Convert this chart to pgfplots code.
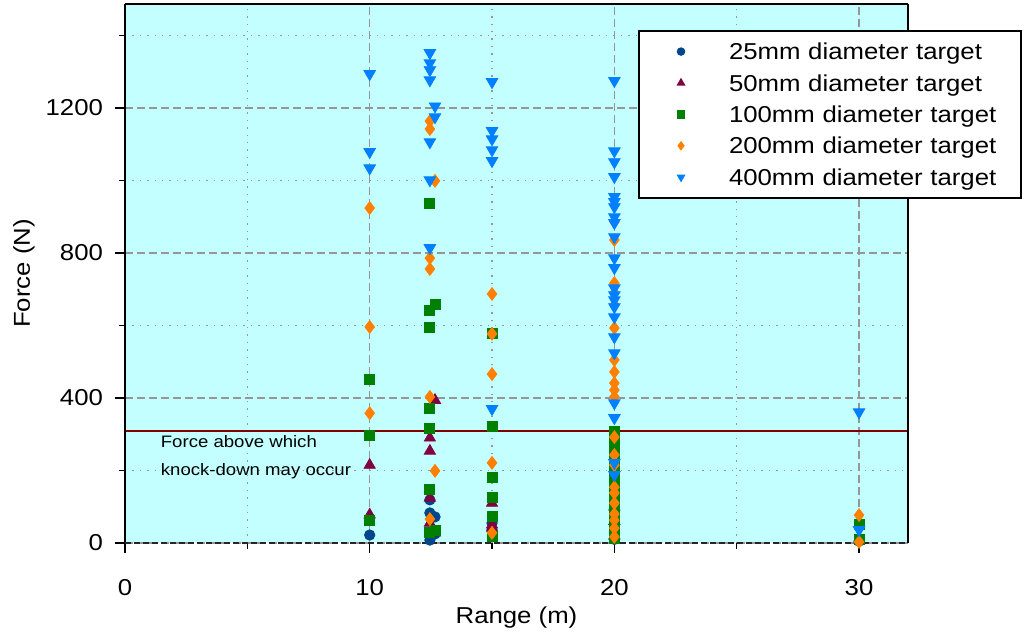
\documentclass[border=0pt]{standalone}
\usepackage{pgfplots}
\pgfplotsset{compat=1.18}
\usepackage{fontspec}
\setmainfont{Liberation Sans}[FakeStretch=1.12]

\definecolor{bgc}{RGB}{196,255,255}
\definecolor{c25}{RGB}{0,70,140}
\definecolor{c50}{RGB}{128,0,64}
\definecolor{c100}{RGB}{0,128,0}
\definecolor{c200}{RGB}{255,128,0}
\definecolor{c400}{RGB}{0,128,255}
\definecolor{redline}{RGB}{128,0,0}
\definecolor{gridc}{RGB}{150,150,150}

\begin{document}
\begin{tikzpicture}
\useasboundingbox (0,0) rectangle (512pt,318pt);
\begin{axis}[
 at={(62.5pt,46.5pt)}, anchor=south west,
 scale only axis, width=391.5pt, height=269.5pt,
 xmin=0, xmax=32, ymin=0, ymax=1487,
 clip=false,
 axis line style={draw=none},
 axis background/.style={fill=bgc},
 xtick={0,10,20,30}, minor xtick={5,15,25},
 ytick={0,400,800,1200}, minor ytick={200,600,1000,1400},
 tick align=outside, tick pos=left,
 major tick length=5pt, minor tick length=3pt,
 every tick/.style={black, line width=0.6pt},
 grid=both,
 major grid style={gridc, dash pattern=on 4pt off 2pt, line width=0.6pt},
 minor grid style={gridc, dash pattern=on 0.7pt off 3pt, line width=0.6pt},
 tick label style={font=\fontsize{11.5}{13}\selectfont},
 xticklabel style={yshift=-9.5pt},
 yticklabel style={xshift=-2.5pt},
 /pgf/number format/assume math mode=true,
 /pgf/number format/1000 sep={},
 scaled y ticks=false,
 xlabel={Range (m)}, ylabel={Force (N)},
 label style={font=\fontsize{11.5}{13}\selectfont},
 xlabel style={at={(axis description cs:0.5,-0.139)}, anchor=center},
 ylabel style={at={(axis description cs:-0.129,0.5)}, anchor=center},
 legend cell align=left,
 legend style={at={(axis description cs:0.6552,0.9518)}, anchor=north west,
   draw=black, line width=1pt, fill=white,
   font=\fontsize{11.5}{13}\selectfont,
   inner xsep=8pt, inner ysep=6.2pt, row sep=7.5pt, column sep=0pt,
   nodes={inner sep=0pt, text height=8.2pt, text depth=0pt, text width=138pt, align=left}},
 legend image code/.code={\path[draw=none, fill=none] (0pt,0pt) -- (37pt,0pt); \draw[#1, mark size=1.6pt] plot coordinates {(13pt,0pt)};},
]
% 25mm
\addplot[only marks, mark=*, mark size=2.6pt, color=c25, mark options={draw=c25, fill=c25}] coordinates {
(10,22) (12.46,119) (12.46,83) (12.67,72) (12.46,8) (12.67,25) (15,55) (15,36) (20,10) (20,30) (30,5)
};
\addlegendentry{25mm diameter target}
% 50mm
\addplot[only marks, mark=triangle*, mark size=3.2pt, color=c50, mark options={draw=c50, fill=c50}] coordinates {
(10,215) (10,78) (12.67,394) (12.46,290) (12.46,254) (12.46,124) (12.46,55) (12.67,28) (15,110) (15,50) (15,41) (20,100) (20,60) (20,20) (30,8)
};
\addlegendentry{50mm diameter target}
% 100mm
\addplot[only marks, mark=square*, mark size=2.5pt, color=c100, mark options={draw=c100, fill=c100}] coordinates {
(10,450) (10,298) (10,63) (12.46,938) (12.67,659) (12.46,643) (12.46,596) (12.46,372) (12.46,317) (12.46,149) (12.67,36) (12.46,28)
(15,579) (15,323) (15,182) (15,127) (15,72) (15,17)
(20,307) (20,287) (20,267) (20,247) (20,227) (20,207) (20,187) (20,167) (20,147) (20,127) (20,107) (20,87) (20,67) (20,47) (20,27) (20,12)
(30,50) (30,11)
};
\addlegendentry{100mm diameter target}
% 200mm
\addplot[only marks, mark=diamond*, mark size=3.2pt, color=c200, mark options={draw=c200, fill=c200}] coordinates {
(10,924) (10,596) (10,358) (12.46,1164) (12.46,1142) (12.67,999) (12.46,786) (12.46,756) (12.46,403) (12.67,199) (12.46,66)
(15,687) (15,577) (15,466) (15,221) (15,28)
(20,886) (20,836) (20,717) (20,690) (20,657) (20,593) (20,505) (20,472) (20,441) (20,422) (20,403) (20,292) (20,243) (20,215) (20,154) (20,138) (20,110) (20,80) (20,63) (20,41) (20,17)
(30,77) (30,3)
};
\addlegendentry{200mm diameter target}
% 400mm
\addplot[only marks, mark=triangle*, mark size=3.3pt, color=c400, mark options={draw=c400, fill=c400, rotate=180}] coordinates {
(10,1294) (10,1079) (10,1034)
(12.46,1352) (12.46,1324) (12.46,1305) (12.46,1277) (12.67,1205) (12.67,1175) (12.46,1106) (12.46,1001) (12.46,814)
(15,1272) (15,1137) (15,1114) (15,1084) (15,1054) (15,370)
(20,1275) (20,1081) (20,1051) (20,1010) (20,955) (20,941) (20,927) (20,899) (20,883) (20,844) (20,786) (20,759) (20,703) (20,684) (20,670) (20,651) (20,623) (20,568) (20,524) (20,386) (20,345) (20,221) (20,188)
(30,361) (30,36)
};
\addlegendentry{400mm diameter target}
% threshold line
\addplot[redline, line width=1pt, forget plot] coordinates {(0,310) (32,310)};
\node[anchor=north west, align=left, font=\fontsize{8.3}{14}\selectfont, inner sep=0pt] at (axis cs:1.45,299) {Force above which\\knock-down may occur};
% frame
\draw[black, line width=1.2pt] (rel axis cs:0,1) -- (rel axis cs:1,1);
\draw[black, line width=1pt] (rel axis cs:0,0) -- (rel axis cs:0,1);
\draw[black, line width=0.7pt] (rel axis cs:1,0) -- (rel axis cs:1,1);
\draw[black!85, line width=0.8pt, dash pattern=on 3pt off 1.5pt] (rel axis cs:0,0) -- (rel axis cs:1,0);
\end{axis}
\end{tikzpicture}
\end{document}
